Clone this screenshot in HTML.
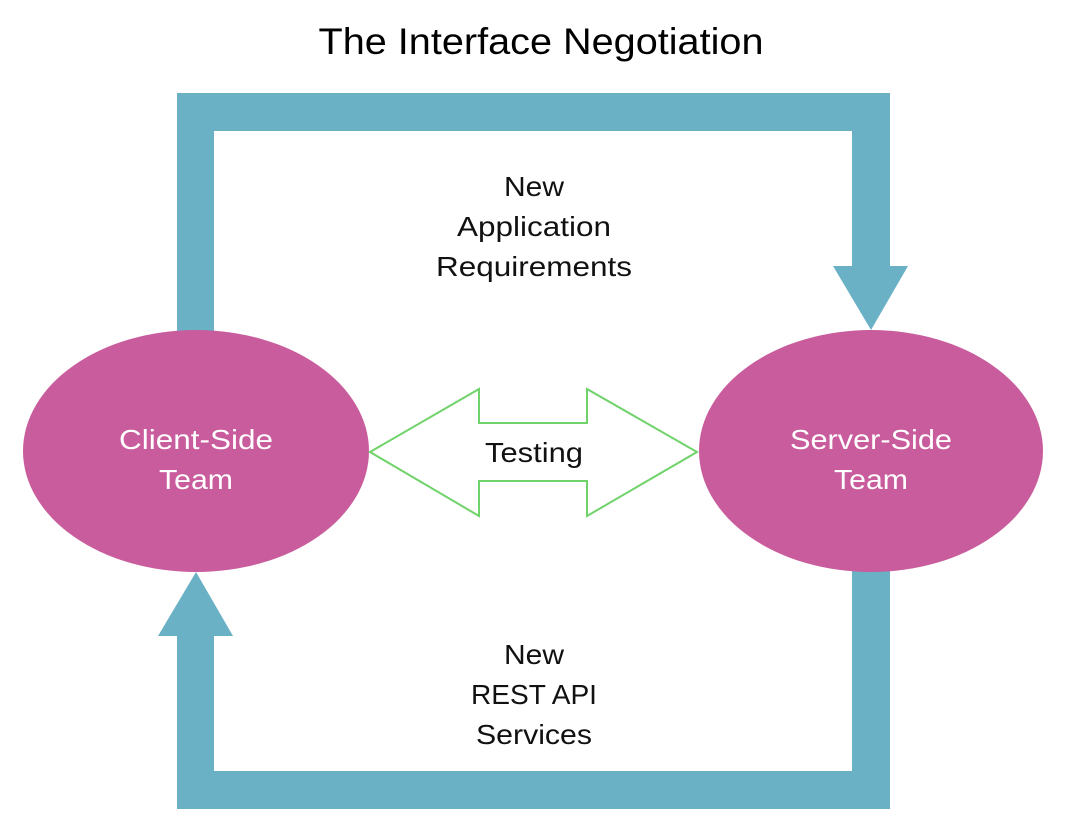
<!DOCTYPE html>
<html><head><style>
body{margin:0;background:#fff;}
svg{display:block;}
text{font-family:"Liberation Sans",sans-serif;}
</style></head><body>
<svg width="1067" height="834" viewBox="0 0 1067 834">
<rect width="1067" height="834" fill="#fff"/>
<g fill="#6ab1c6">
<rect x="177" y="93" width="713" height="38"/>
<rect x="177" y="93" width="37" height="245"/>
<rect x="852" y="93" width="38" height="174"/>
<polygon points="833,266 908,266 871,330"/>
<rect x="177" y="771" width="713" height="38"/>
<rect x="852" y="560" width="38" height="249"/>
<rect x="177" y="634" width="37" height="175"/>
<polygon points="158,636 233,636 196,572"/>
</g>
<ellipse cx="196" cy="451" rx="173" ry="121" fill="#c95c9c"/>
<ellipse cx="871" cy="451" rx="172" ry="121" fill="#c95c9c"/>
<polygon points="370,452 479,389 479,423 587,423 587,389 697,452 587,516 587,481 479,481 479,516" fill="#fff" stroke="#6fd36a" stroke-width="2"/>
<text x="541" y="54" font-size="37" text-anchor="middle" fill="#000" textLength="445" lengthAdjust="spacingAndGlyphs">The Interface Negotiation</text>
<g font-size="28" text-anchor="middle" fill="#111">
<text x="534" y="196" textLength="60" lengthAdjust="spacingAndGlyphs">New</text>
<text x="534" y="236" textLength="154" lengthAdjust="spacingAndGlyphs">Application</text>
<text x="534" y="276" textLength="196" lengthAdjust="spacingAndGlyphs">Requirements</text>
<text x="534" y="462" textLength="98" lengthAdjust="spacingAndGlyphs">Testing</text>
<text x="534" y="664" textLength="60" lengthAdjust="spacingAndGlyphs">New</text>
<text x="534" y="704" textLength="126" lengthAdjust="spacingAndGlyphs">REST API</text>
<text x="534" y="744" textLength="116" lengthAdjust="spacingAndGlyphs">Services</text>
</g>
<g font-size="28" text-anchor="middle" fill="#fff">
<text x="196" y="449" textLength="154" lengthAdjust="spacingAndGlyphs">Client-Side</text>
<text x="196" y="489" textLength="74" lengthAdjust="spacingAndGlyphs">Team</text>
<text x="871" y="449" textLength="162" lengthAdjust="spacingAndGlyphs">Server-Side</text>
<text x="871" y="489" textLength="74" lengthAdjust="spacingAndGlyphs">Team</text>
</g>
</svg>
</body></html>
